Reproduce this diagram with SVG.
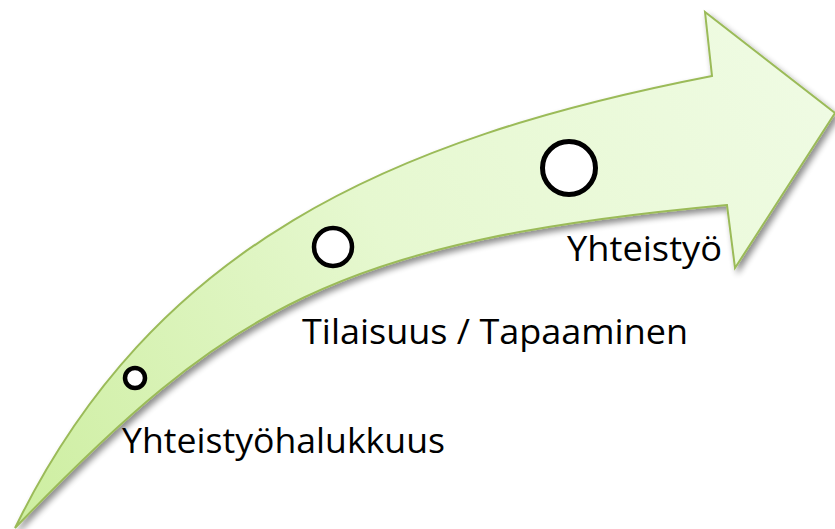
<svg xmlns="http://www.w3.org/2000/svg" width="835" height="529" viewBox="0 0 835 529">
  <style>
    .label { font-family: "Open Sans", "Liberation Sans", sans-serif; font-size: 35px; fill: #000000; }
    .stage { fill: #ffffff; stroke: #000000; }
  </style>
  <defs>
    <linearGradient id="arrowFill" gradientUnits="userSpaceOnUse" x1="15" y1="528" x2="835" y2="113">
      <stop offset="0" stop-color="#cdeea0"/>
      <stop offset="0.5" stop-color="#e6f8d0"/>
      <stop offset="1" stop-color="#effbe3"/>
    </linearGradient>
    <filter id="softShadow" x="-10%" y="-10%" width="130%" height="130%">
      <feGaussianBlur in="SourceAlpha" stdDeviation="3"/>
      <feOffset dx="3" dy="4" result="blur"/>
      <feComponentTransfer>
        <feFuncA type="linear" slope="0.45"/>
      </feComponentTransfer>
      <feMerge>
        <feMergeNode/>
        <feMergeNode in="SourceGraphic"/>
      </feMerge>
    </filter>
  </defs>

  <!-- curved progress arrow -->
  <g id="arrow">
    <path d="M15,528 C152.6,246.4 388,139 712,76 L705,12 L835,113 L735,268 L727,205 C335.5,241 227.5,308 15,528 Z"
          fill="url(#arrowFill)" stroke="#9bbb59" stroke-width="2" stroke-linejoin="miter" filter="url(#softShadow)"/>
  </g>

  <!-- stages along the arrow -->
  <g id="stage-halukkuus">
    <circle class="stage" cx="135" cy="378" r="10" stroke-width="4.5"/>
    <text class="label" x="122" y="453" textLength="323" lengthAdjust="spacingAndGlyphs">Yhteistyöhalukkuus</text>
  </g>
  <g id="stage-tilaisuus">
    <circle class="stage" cx="333" cy="247" r="19" stroke-width="4.5"/>
    <text class="label" x="302" y="344" textLength="386" lengthAdjust="spacingAndGlyphs">Tilaisuus / Tapaaminen</text>
  </g>
  <g id="stage-yhteistyo">
    <circle class="stage" cx="569" cy="168" r="26.5" stroke-width="5"/>
    <text class="label" x="567" y="261" textLength="155" lengthAdjust="spacingAndGlyphs">Yhteistyö</text>
  </g>
</svg>
